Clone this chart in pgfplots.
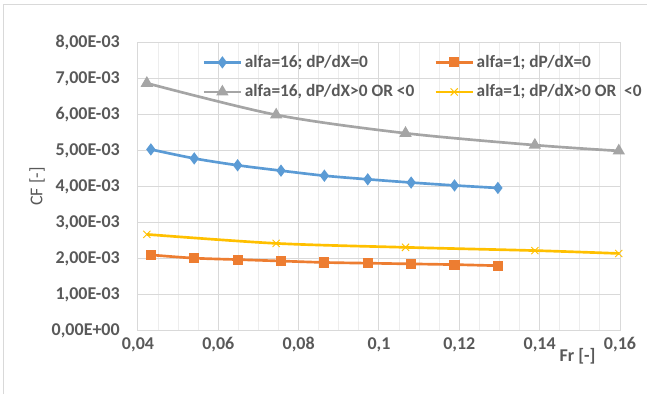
\documentclass[border=0pt]{standalone}
\usepackage{fontspec}
\setmainfont{Carlito}
\usepackage{pgfplots}
\pgfplotsset{compat=1.18}
\definecolor{cblue}{HTML}{5B9BD5}
\definecolor{corange}{HTML}{ED7D31}
\definecolor{cgray}{HTML}{A5A5A5}
\definecolor{cyellow}{HTML}{FFC000}
\definecolor{ctext}{HTML}{595959}
\definecolor{cgrid}{HTML}{D9D9D9}
\definecolor{cminor}{HTML}{EDEDED}
\begin{document}
\begin{tikzpicture}
\useasboundingbox (-103.5pt,-47.625pt) rectangle (381.75pt,247.875pt);
\draw[cgrid,line width=0.75pt] (-100.5pt,-47.625pt) -- (-100.5pt,244.875pt) -- (381.75pt,244.875pt);
\begin{axis}[
  at={(0pt,0pt)}, anchor=south west,
  scale only axis, width=361.5pt, height=216pt,
  xmin=0.04, xmax=0.16, ymin=0, ymax=0.008,
  scaled ticks=false,
  xtick={0.04,0.06,0.08,0.1,0.12,0.14,0.16},
  xticklabels={{0,04},{0,06},{0,08},{0,1},{0,12},{0,14},{0,16}},
  minor x tick num=3,
  ytick={0,0.001,0.002,0.003,0.004,0.005,0.006,0.007,0.008},
  yticklabels={{0,00E+00},{1,00E-03},{2,00E-03},{3,00E-03},{4,00E-03},{5,00E-03},{6,00E-03},{7,00E-03},{8,00E-03}},
  xmajorgrids, ymajorgrids, xminorgrids,
  major grid style={cgrid, line width=0.75pt},
  minor grid style={cminor, line width=0.75pt},
  axis line style={cgrid, line width=0.75pt},
  major tick length=0pt, minor tick length=0pt,
  tick style={draw=none},
  xticklabel style={font=\fontsize{13.5}{15}\selectfont\bfseries, text=ctext, anchor=base, inner sep=0pt, yshift=-14.6pt},
  yticklabel style={font=\fontsize{13.5}{15}\selectfont\bfseries, text=ctext, anchor=east, inner sep=0pt, xshift=-13.5pt},
  xlabel={Fr [-]},
  xlabel style={at={(rel axis cs:0.912,-0.09)}, anchor=center, font=\fontsize{13.5}{15}\selectfont\bfseries, text=ctext},
  ylabel={CF [-]},
  ylabel style={at={(rel axis cs:-0.2095,0.5)}, anchor=center, font=\fontsize{13.5}{15}\selectfont, text=ctext},
  legend columns=2,
  legend cell align=left,
  legend style={at={(rel axis cs:0.125,0.975)}, anchor=north west, draw=none, fill=none,
    font=\fontsize{13}{15}\selectfont\bfseries, text=ctext, row sep=7.5pt,
    /tikz/every even column/.append style={column sep=13pt}},
  legend image code/.code={\draw[mark repeat=2,mark phase=2,#1] plot coordinates {(0pt,0pt) (13.9pt,0pt) (27.8pt,0pt)};},
]
\addplot[cblue, line width=2pt, smooth, mark=diamond*, mark size=3pt, mark options={solid}] coordinates {
(0.0432,0.00503) (0.0540,0.00478) (0.0648,0.00459) (0.0756,0.00444) (0.0864,0.00430) (0.0972,0.00420) (0.1080,0.00411) (0.1188,0.00403) (0.1296,0.00396)};
\addlegendentry{alfa=16; dP/dX=0}
\addplot[corange, line width=2pt, smooth, mark=square*, mark size=2.8pt, mark options={solid}] coordinates {
(0.0432,0.00210) (0.0540,0.00201) (0.0648,0.00197) (0.0756,0.00193) (0.0864,0.00189) (0.0972,0.00187) (0.1080,0.00185) (0.1188,0.00183) (0.1296,0.00180)};
\addlegendentry{alfa=1; dP/dX=0}
\addplot[cgray, line width=2pt, smooth, mark=triangle*, mark size=3.4pt, mark options={solid}] coordinates {
(0.0422,0.00687) (0.0744,0.00599) (0.1066,0.00548) (0.1388,0.00515) (0.1597,0.00499)};
\addlegendentry{alfa=16, dP/dX>0 OR <0}
\addplot[cyellow, line width=2pt, smooth, mark=x, mark size=3.8pt, mark options={solid, line width=0.7pt}] coordinates {
(0.0422,0.00267) (0.0744,0.00242) (0.1066,0.00231) (0.1388,0.00222) (0.1597,0.00214)};
\addlegendentry{alfa=1; dP/dX>0 OR \ <0}
\end{axis}
\end{tikzpicture}
\end{document}
